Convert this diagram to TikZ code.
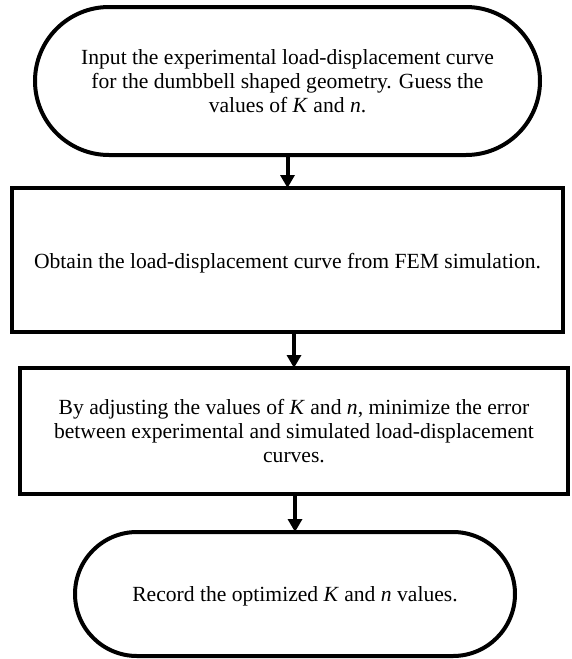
\documentclass[tikz,border=0pt]{standalone}
\usepackage{fontspec}
\setmainfont{Liberation Serif}
\usetikzlibrary{shapes.misc,arrows.meta}
\begin{document}
\begin{tikzpicture}[x=1pt,y=-1pt,
  every node/.style={font=\fontsize{21.6}{24}\selectfont, align=center, inner sep=0pt, outer sep=0pt},
  term/.style={draw, line width=4pt, rounded rectangle},
  proc/.style={draw, line width=4pt, rectangle},
  flow/.style={line width=4pt, -{Triangle[length=13pt,width=14pt]}}]
\useasboundingbox (0,0) rectangle (571,659);
\node[term, minimum width=505pt, minimum height=148pt] (a) at (287.5,81)
  {Input the experimental load-displacement curve\\for the dumbbell shaped geometry. Guess the\\values of \textit{K} and \textit{n}.};
\node[proc, minimum width=551pt, minimum height=144pt] (b) at (287.5,260)
  {\raisebox{-3pt}[\height][\depth]{Obtain the load-displacement curve from FEM simulation.}};
\node[proc, minimum width=548pt, minimum height=126pt] (c) at (294,431)
  {By adjusting the values of \textit{K} and \textit{n}, minimize the error\\between experimental and simulated load-displacement\\curves.};
\node[term, minimum width=440pt, minimum height=124pt] (d) at (295,594)
  {\raisebox{-2pt}[\height][\depth]{Record the optimized \textit{K} and \textit{n} values.}};
\draw[flow] (a.south) -- (a.south |- b.north);
\draw[flow] (c.north |- b.south) -- (c.north);
\draw[flow] (c.south -| d.north) -- (d.north);
\end{tikzpicture}
\end{document}
